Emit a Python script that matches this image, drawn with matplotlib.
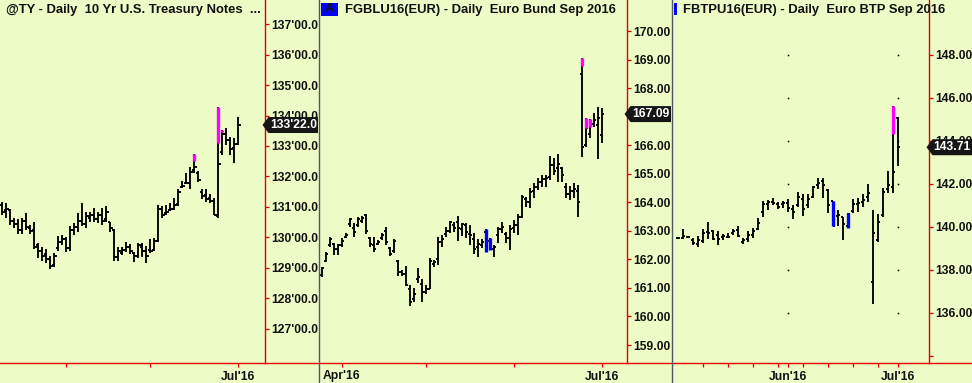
import numpy as np
import pandas as pd
import matplotlib
matplotlib.use("Agg")
import matplotlib.pyplot as plt
from matplotlib.collections import LineCollection
from matplotlib.patches import Polygon, Rectangle
from matplotlib.lines import Line2D

# ------------------------------------------------------------------ data
ty_title = "@TY - Daily  10 Yr U.S. Treasury Notes  ..."
bund_title = "FGBLU16(EUR) - Daily  Euro Bund Sep 2016"
btp_title = "FBTPU16(EUR) - Daily  Euro BTP Sep 2016"

ty_start, ty_end, ty_holidays = "2016-04-08", "2016-07-01", ["2016-05-30"]
bund_start, bund_end, bund_holidays = "2016-03-23", "2016-07-01", ["2016-03-25", "2016-03-28"]
btp_start, btp_end, btp_holidays = "2016-05-02", "2016-07-01", []

ty_open = [131.05, 130.90, 130.90, 130.55, 130.45, 130.25, 130.55, 130.30, 130.25, 129.75,
           129.55, 129.45, 129.30, 129.10, 129.65, 129.85, 129.95, 129.65, 130.25, 130.35,
           130.55, 130.45, 130.65, 130.75, 130.60, 130.75, 130.60, 130.50, 130.25, 129.35,
           129.50, 129.60, 129.70, 129.50, 129.40, 129.70, 129.55, 129.60, 129.60, 129.90,
           130.95, 130.80, 130.90, 130.95, 131.10, 131.65, 131.80, 131.80, 132.20, 132.10,
           131.50, 131.40, 131.30, 131.20, 130.70, 132.80, 133.40, 133.20, 132.95, 133.05]
ty_high = [131.18, 131.12, 130.93, 130.65, 130.60, 130.65, 130.79, 130.41, 130.52, 129.81,
           129.70, 129.62, 129.39, 129.48, 130.05, 130.08, 130.03, 130.38, 130.49, 130.79,
           131.14, 130.85, 130.85, 130.98, 130.85, 130.96, 131.03, 130.52, 130.28, 129.70,
           129.70, 129.86, 129.78, 129.54, 129.81, 129.81, 129.73, 129.95, 129.97, 131.07,
           131.03, 131.07, 131.12, 131.28, 131.58, 131.86, 132.10, 132.32, 132.73, 132.18,
           131.58, 131.58, 131.42, 131.28, 134.27, 133.54, 133.58, 133.31, 133.25, 133.94]
ty_low = [130.74, 130.65, 130.41, 130.30, 130.10, 130.10, 130.25, 130.10, 129.62, 129.34,
          129.24, 129.17, 128.97, 129.04, 129.56, 129.75, 129.54, 129.56, 130.08, 130.19,
          130.39, 130.32, 130.52, 130.52, 130.47, 130.41, 130.52, 130.17, 129.24, 129.24,
          129.43, 129.54, 129.45, 129.21, 129.32, 129.37, 129.15, 129.48, 129.56, 129.86,
          130.65, 130.74, 130.87, 130.90, 131.04, 131.61, 131.75, 131.59, 132.10, 131.81,
          131.25, 131.15, 131.12, 130.74, 130.65, 132.70, 133.03, 132.70, 132.43, 133.03]
ty_close = [130.85, 130.95, 130.55, 130.45, 130.25, 130.55, 130.35, 130.20, 129.70, 129.55,
            129.40, 129.30, 129.05, 129.40, 129.85, 129.95, 129.65, 130.25, 130.35, 130.55,
            130.45, 130.70, 130.75, 130.60, 130.75, 130.55, 130.85, 130.30, 129.35, 129.55,
            129.60, 129.70, 129.55, 129.40, 129.75, 129.55, 129.40, 129.55, 129.90, 130.95,
            130.75, 130.85, 130.95, 131.05, 131.50, 131.70, 131.80, 132.15, 132.30, 131.90,
            131.35, 131.25, 131.20, 130.75, 132.40, 133.40, 133.20, 132.90, 133.05, 133.6875]
ty_magenta = {"2016-06-16": (132.52, 132.73), "2016-06-24": (133.11, 134.27),
              "2016-06-27": (133.45, 133.54)}
ty_blue = {}
ty_yticks = [127, 128, 129, 130, 131, 132, 133, 134, 135, 136, 137]
ty_month_labels = ["", "", "Jul'16"]

bund_open = [161.45, 161.95, 162.50, 162.55, 162.35, 162.50, 162.80, 163.25, 163.10, 163.20,
             163.35, 163.55, 162.75, 162.50, 162.55, 162.75, 163.00, 162.40, 162.30, 161.95,
             161.55, 161.50, 160.95, 160.60, 161.30, 161.15, 160.85, 160.95, 161.85, 162.00,
             162.60, 162.90, 163.00, 163.20, 163.30, 163.05, 163.20, 162.90, 162.70, 162.45,
             162.50, 162.95, 162.65, 162.35, 162.85, 163.05, 162.90, 162.75, 163.10, 163.20,
             163.50, 164.10, 164.00, 164.40, 164.55, 164.70, 164.80, 164.90, 165.30, 165.20,
             165.20, 164.55, 164.30, 164.40, 164.40, 168.49, 166.00, 166.40, 166.75, 166.70, 166.35]
bund_high = [161.75, 162.27, 162.80, 162.59, 162.53, 162.74, 162.91, 163.44, 163.26, 163.50,
             163.52, 163.58, 162.80, 162.77, 162.68, 162.94, 163.12, 162.45, 162.71, 161.98,
             161.63, 161.77, 161.10, 160.99, 161.69, 161.30, 161.10, 162.04, 161.98, 162.80,
             162.85, 163.15, 163.36, 163.32, 163.52, 163.29, 163.26, 163.21, 162.94, 162.70,
             162.70, 163.07, 162.74, 162.50, 163.15, 163.32, 162.97, 163.21, 163.38, 163.59,
             164.26, 164.20, 164.49, 164.66, 164.86, 164.96, 164.96, 165.62, 165.54, 165.69,
             165.25, 164.69, 164.57, 164.66, 164.61, 169.05, 166.94, 166.91, 167.12, 167.33, 167.29]
bund_low = [161.37, 161.92, 162.45, 162.15, 162.15, 162.45, 162.74, 163.15, 162.80, 163.15,
            163.26, 162.88, 162.45, 162.27, 162.50, 162.68, 162.50, 162.13, 162.21, 161.43,
            161.43, 161.07, 160.38, 160.52, 161.16, 160.52, 160.79, 160.95, 161.75, 161.80,
            162.45, 162.80, 162.91, 162.97, 162.66, 162.82, 162.76, 162.50, 162.19, 162.10,
            162.39, 162.27, 162.33, 162.10, 162.56, 162.91, 162.56, 162.33, 162.91, 162.85,
            163.44, 163.85, 163.79, 164.14, 164.43, 164.55, 164.55, 164.78, 164.96, 164.72,
            164.72, 164.14, 164.08, 164.14, 163.50, 165.58, 165.95, 166.24, 166.65, 165.50, 166.07]
bund_close = [161.70, 162.20, 162.70, 162.35, 162.50, 162.65, 162.85, 163.40, 162.95, 163.40,
              163.45, 163.00, 162.55, 162.35, 162.60, 162.85, 162.60, 162.20, 162.65, 161.55,
              161.50, 161.10, 160.50, 160.80, 161.40, 160.85, 160.95, 161.95, 161.90, 162.60,
              162.70, 163.00, 163.30, 163.10, 163.10, 163.25, 162.95, 162.85, 162.35, 162.55,
              162.60, 162.35, 162.40, 162.45, 163.05, 163.15, 162.75, 163.05, 163.20, 163.50,
              164.20, 164.00, 164.35, 164.55, 164.70, 164.80, 164.85, 165.30, 165.10, 165.35,
              164.95, 164.30, 164.40, 164.45, 164.00, 165.95, 166.60, 166.70, 166.90, 166.95, 167.09]
bund_magenta = {"2016-06-24": (168.79, 169.05), "2016-06-27": (166.61, 166.94),
                "2016-06-28": (166.65, 166.91)}
bund_blue = {"2016-05-23": (162.27, 163.07), "2016-05-24": (162.33, 162.74)}
bund_yticks = [159, 160, 161, 162, 163, 164, 165, 166, 167, 168, 169, 170]
bund_month_labels = ["Apr'16", "", "", "Jul'16"]

btp_open = [139.50, 139.50, 139.55, 139.40, 139.20, 139.35, 139.75, 139.80, 139.65, 139.55,
            139.55, 139.70, 139.85, 139.30, 139.45, 139.65, 139.90, 140.70, 141.05, 141.15,
            141.05, 141.05, 141.10, 140.85, 141.00, 141.30, 141.00, 141.40, 141.95, 142.15,
            141.70, 141.20, 140.50, 140.45, 140.05, 140.75, 141.05, 141.15, 141.40, 137.45,
            139.40, 140.55, 141.75, 141.85, 145.05]
btp_high = [139.55, 139.89, 139.58, 139.50, 139.58, 139.89, 140.22, 139.86, 139.81, 139.66,
            139.71, 139.89, 140.05, 139.50, 139.81, 139.97, 140.40, 141.21, 141.26, 141.33,
            141.18, 141.21, 141.30, 141.02, 141.64, 141.54, 141.54, 141.92, 142.26, 142.26,
            141.75, 141.21, 140.79, 140.48, 140.67, 141.30, 141.33, 141.54, 142.00, 140.79,
            140.60, 141.80, 142.60, 145.63, 145.10]
btp_low = [139.44, 139.44, 139.50, 139.16, 139.09, 139.24, 139.44, 139.40, 139.16, 139.40,
           139.47, 139.63, 139.55, 139.19, 139.32, 139.50, 139.86, 140.48, 140.79, 141.02,
           140.84, 140.87, 140.71, 140.37, 140.95, 140.53, 140.87, 141.33, 141.77, 141.33,
           140.64, 140.05, 140.06, 139.40, 139.97, 140.64, 140.71, 140.95, 141.15, 136.42,
           139.32, 140.48, 141.57, 141.60, 142.85]
btp_close = [139.50, 139.60, 139.52, 139.25, 139.40, 139.70, 139.70, 139.45, 139.45, 139.60,
             139.55, 139.80, 139.60, 139.40, 139.65, 139.80, 140.20, 141.05, 141.15, 141.10,
             140.95, 141.10, 140.90, 140.70, 141.40, 140.85, 141.30, 141.85, 142.05, 141.95,
             141.00, 140.05, 140.55, 140.15, 140.60, 141.05, 141.10, 141.25, 141.60, 139.70,
             140.25, 141.65, 141.95, 142.55, 143.71]
btp_magenta = {"2016-06-30": (144.33, 145.63)}
btp_blue = {"2016-06-14": (140.05, 141.21), "2016-06-17": (139.97, 140.67)}
btp_yticks = [134, 136, 138, 140, 142, 144, 146, 148]
btp_ylabeled = [136, 138, 140, 142, 144, 146, 148]
btp_month_labels = ["Jun'16", "Jul'16"]

# ------------------------------------------------------------------ style / layout
W, H = 972, 383
BG = "#edfcc6"
RED = "#e40000"
MAGENTA = "#ff00ff"
BLUE = "#0000ff"
SEP = "#4f5866"
AX_BOTTOM = 363
FS = 8.7

plt.rcParams["font.family"] = ["Liberation Sans", "DejaVu Sans"]
plt.rcParams["font.weight"] = "bold"

fig = plt.figure(figsize=(W / 100, H / 100), dpi=100, facecolor=BG)


def fx(x):
    return x / W


def fy(y):
    return 1 - y / H


def trading_days(start, end, holidays):
    d = pd.bdate_range(start, end)
    return d[~d.isin(pd.to_datetime(holidays))]


def month_starts(dates):
    m = dates.month
    return [i for i in range(1, len(dates)) if m[i] != m[i - 1]]


def fmt32(v):
    whole = int(np.floor(v + 1e-9))
    frac = int(round((v - whole) * 32))
    return f"{whole}'{frac:02d}.0"


def panel(left, right, label_right, ylim, xlim, dates, o, h, l, c, magenta, blue,
          yticks, ylabels, xlabels, tag_text, minor_mondays=False, dots=None):
    ax = fig.add_axes([fx(left), fy(AX_BOTTOM), (right - left) / W, AX_BOTTOM / H])
    ax.set_facecolor(BG)
    ax.set_xlim(*xlim)
    ax.set_ylim(*ylim)
    n = len(dates)
    px_per_bar = (right - left) / (xlim[1] - xlim[0])
    tl = 2.2 / px_per_bar
    segs = []
    for i in range(n):
        segs.append([(i, l[i]), (i, h[i])])
        segs.append([(i - tl, o[i]), (i, o[i])])
        segs.append([(i, c[i]), (i + tl, c[i])])
    ax.add_collection(LineCollection(segs, colors="black", linewidths=1.35,
                                     capstyle="butt"))
    for paint, col in ((magenta, MAGENTA), (blue, BLUE)):
        for d, (lo, hi) in paint.items():
            idx = dates.get_loc(pd.Timestamp(d))
            ax.vlines(idx, lo, hi, colors=col, linewidth=2.4, capstyle="butt", zorder=3)

    for s in ("top", "left"):
        ax.spines[s].set_visible(False)
    for s in ("right", "bottom"):
        ax.spines[s].set_color(RED)
        ax.spines[s].set_linewidth(1.0)
    ax.yaxis.tick_right()
    ax.set_yticks(yticks)
    ax.set_yticklabels(ylabels)
    ax.tick_params(axis="y", direction="out", length=3.2, width=0.9, color=RED,
                   pad=1.2, labelsize=FS, labelcolor="#111111")
    ms = month_starts(dates)
    ax.set_xticks(ms)
    ax.set_xticklabels(xlabels)
    ax.tick_params(axis="x", direction="out", length=2.8, width=0.9, color=RED,
                   pad=2.6, labelsize=FS, labelcolor="#111111")
    if minor_mondays:
        mons = [i for i in range(1, n) if dates[i].weekday() == 0 and i not in ms]
        ax.set_xticks(mons, minor=True)
        ax.tick_params(axis="x", which="minor", direction="out", length=2.8,
                       width=0.9, color=RED)
    if dots is not None:
        for xi in ms:
            ax.plot([xi] * len(dots), dots, ls="none", marker="s", ms=1.1,
                    mec="none", mfc="black")
    # red bottom line continues under the label area
    fig.add_artist(Line2D([fx(right), fx(label_right)], [fy(AX_BOTTOM)] * 2,
                          color=RED, lw=1.0))
    # last-price tag
    yc = ax.transData.transform((0, c[-1]))[1]
    hh = 8
    tip = right - 2.5
    pts = [(tip, yc), (tip + 6, yc + hh), (label_right, yc + hh),
           (label_right, yc - hh), (tip + 6, yc - hh)]
    fig.add_artist(Polygon([(px / W, py / H) for px, py in pts], closed=True,
                           transform=fig.transFigure, fc="#151515", ec="none"))
    fig.text(((tip + 6 + label_right) / 2) / W, yc / H, tag_text, color="white",
             ha="center", va="center", fontsize=FS)
    return ax


ty_dates = trading_days(ty_start, ty_end, ty_holidays)
bund_dates = trading_days(bund_start, bund_end, bund_holidays)
btp_dates = trading_days(btp_start, btp_end, btp_holidays)

panel(0, 265, 318, (125.885, 137.787), (-0.575, 65.675), ty_dates,
      ty_open, ty_high, ty_low, ty_close, ty_magenta, ty_blue,
      ty_yticks, [fmt32(v) for v in ty_yticks], ty_month_labels, fmt32(ty_close[-1]))

panel(320, 627, 671, (158.371, 171.086), (-0.425, 76.325), bund_dates,
      bund_open, bund_high, bund_low, bund_close, bund_magenta, bund_blue,
      bund_yticks, [f"{v:.2f}" for v in bund_yticks], bund_month_labels,
      f"{bund_close[-1]:.2f}")

panel(672, 929, 972, (133.674, 150.558), (-1.14, 50.26), btp_dates,
      btp_open, btp_high, btp_low, btp_close, btp_magenta, btp_blue,
      btp_yticks, [f"{v:.2f}" if v in btp_ylabeled else "" for v in btp_yticks],
      btp_month_labels, f"{btp_close[-1]:.2f}", minor_mondays=True, dots=btp_ylabeled)

# panel separators
for xs in (319, 671.5):
    fig.add_artist(Line2D([fx(xs)] * 2, [0, 1], color=SEP, lw=1.0))

# titles
fig.text(fx(6), fy(10), ty_title, fontsize=9.4, ha="left", va="center", color="#111111")
fig.add_artist(Rectangle((fx(320.5), fy(15.5)), 17.5 / W, 13 / H, transform=fig.transFigure,
                         fc=BLUE, ec="none"))
fig.text(fx(329), fy(9.5), "A", fontsize=9.4, ha="center", va="center", color="#111111")
fig.text(fx(345), fy(10), bund_title, fontsize=9.4, ha="left", va="center", color="#111111")
fig.add_artist(Rectangle((fx(673.5), fy(15)), 3.2 / W, 12 / H, transform=fig.transFigure,
                         fc=BLUE, ec="none"))
fig.text(fx(683), fy(10), btp_title, fontsize=9.4, ha="left", va="center", color="#111111")

fig.savefig("out.png", dpi=100, facecolor=BG)
